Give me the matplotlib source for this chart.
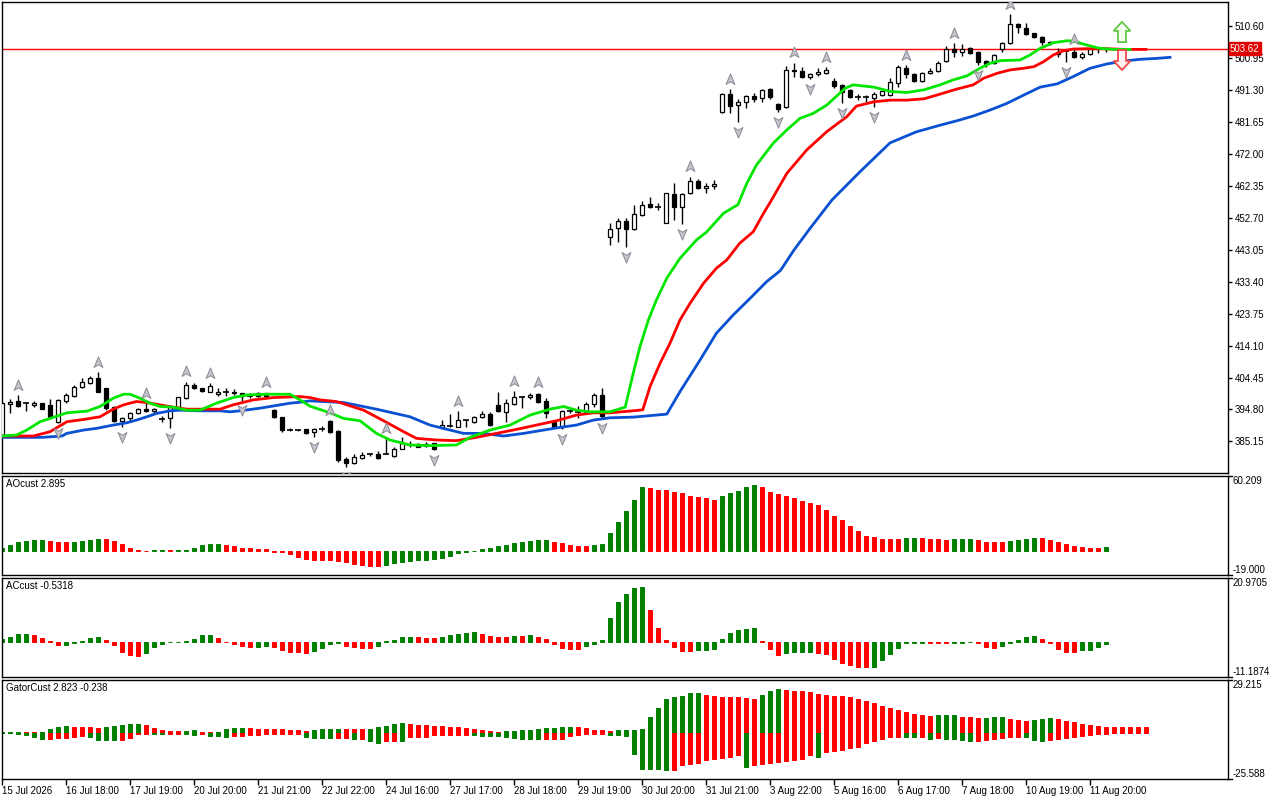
import numpy as np
import matplotlib
matplotlib.use('Agg')
import matplotlib.pyplot as plt
from matplotlib.path import Path
from matplotlib.patches import Polygon

plt.rcParams['font.family'] = ['Liberation Sans', 'DejaVu Sans']

# ---- candles (one per bar) ----
opens = [387.1, 396.4, 397.4, 396.7, 396.2, 396.7, 396.1, 391.1, 397.5, 399.0,
         401.5, 402.9, 404.2, 401.2, 395.5, 391.4, 392.3, 393.6, 394.9, 394.2,
         391.9, 392.1, 395.5, 398.2, 402.2, 401.3, 400.2, 399.6, 400.2, 400.2,
         399.7, 398.9, 399.7, 399.7, 394.6, 392.4, 388.6, 388.6, 388.8, 387.9,
         388.8, 391.3, 388.3, 379.9, 378.6, 380.3, 381.3, 381.4, 381.4, 380.8,
         382.8, 384.1, 384.3, 383.8, 384.6, 389.3, 389.9, 389.6, 391.6, 391.0,
         392.4, 393.4, 396.2, 394.1, 396.5, 398.7, 398.6, 399.4, 397.4, 391.1,
         389.6, 394.4, 394.1, 394.1, 396.4, 399.2, 446.7, 449.4, 451.5, 449.2,
         453.5, 456.8, 456.0, 451.1, 459.8, 455.8, 460.0, 463.8, 461.6, 462.1,
         484.4, 489.9, 486.6, 487.4, 489.3, 488.6, 491.4, 486.9, 485.9, 497.1,
         496.9, 495.2, 495.9, 496.2, 493.9, 492.7, 491.1, 489.1, 488.9, 488.6,
         489.6, 489.6, 493.2, 497.7, 496.0, 493.9, 496.2, 496.9, 500.0, 503.4,
         502.7, 503.7, 502.5, 499.9, 499.2, 503.5, 505.2, 511.1, 509.7, 508.2,
         507.2, 505.7, 502.7, 502.9, 502.7, 501.0, 501.9, 503.4, 503.5]
highs = [396.9, 397.9, 399.2, 397.2, 397.4, 396.9, 397.9, 397.9, 399.9, 402.2,
         404.2, 404.9, 406.0, 401.4, 395.9, 392.6, 394.0, 395.4, 396.7, 395.4,
         392.8, 396.2, 398.7, 403.2, 402.7, 401.3, 402.7, 401.2, 401.2, 400.9,
         399.9, 399.7, 400.0, 399.9, 395.1, 392.6, 389.2, 389.0, 389.0, 389.1,
         389.8, 391.6, 388.6, 380.4, 381.4, 382.1, 381.8, 382.3, 386.1, 383.6,
         386.4, 385.4, 384.6, 385.0, 384.8, 391.6, 393.4, 394.3, 391.6, 392.9,
         394.3, 394.1, 400.2, 397.9, 400.3, 398.9, 399.7, 399.9, 398.2, 391.3,
         394.6, 395.0, 395.8, 397.2, 399.7, 401.2, 451.1, 452.5, 452.5, 456.5,
         457.8, 458.8, 457.0, 460.2, 463.0, 460.0, 465.0, 464.2, 463.2, 464.0,
         490.1, 491.4, 488.3, 489.6, 490.1, 491.4, 491.9, 487.1, 498.4, 499.4,
         498.2, 496.4, 497.7, 498.0, 494.9, 492.9, 491.4, 489.8, 489.5, 490.4,
         491.0, 494.7, 498.7, 498.7, 496.4, 496.7, 497.7, 499.9, 504.4, 505.2,
         504.9, 504.2, 502.9, 500.2, 502.0, 505.7, 514.1, 511.5, 511.3, 508.4,
         507.4, 506.0, 503.7, 503.2, 503.4, 502.7, 503.9, 503.9, 504.0]
lows = [387.0, 393.6, 395.6, 394.2, 395.7, 394.8, 392.1, 390.8, 396.7, 398.7,
        401.4, 402.4, 400.0, 394.6, 391.1, 389.4, 391.3, 393.4, 393.9, 393.8,
        390.9, 389.1, 395.1, 397.9, 400.9, 400.2, 400.0, 398.9, 398.9, 399.2,
        397.5, 398.2, 398.6, 398.6, 392.1, 388.1, 388.2, 388.2, 387.4, 386.6,
        388.3, 387.6, 379.1, 377.4, 378.4, 379.8, 380.8, 380.0, 381.3, 380.6,
        382.8, 383.4, 383.4, 383.4, 382.6, 389.1, 389.4, 389.4, 389.4, 390.8,
        392.1, 389.8, 394.1, 391.1, 396.2, 395.4, 397.9, 396.9, 392.1, 389.4,
        388.8, 393.6, 392.1, 393.8, 395.7, 392.3, 444.4, 445.4, 443.7, 448.9,
        453.3, 455.5, 455.0, 450.9, 451.9, 450.6, 459.8, 461.2, 460.2, 461.2,
        484.1, 484.1, 481.6, 485.8, 487.6, 487.6, 488.3, 484.6, 485.6, 495.2,
        494.7, 494.4, 495.5, 496.0, 491.7, 487.3, 488.8, 488.1, 487.6, 486.1,
        489.4, 489.4, 492.0, 494.7, 493.7, 493.7, 496.0, 496.7, 499.7, 501.2,
        501.5, 502.0, 498.7, 498.2, 498.9, 502.7, 505.0, 508.2, 507.7, 506.9,
        504.7, 504.7, 501.2, 499.7, 500.7, 500.4, 501.7, 502.4, 502.7]
closes = [396.7, 397.1, 395.9, 396.75, 396.9, 395.1, 392.4, 397.7, 399.2, 401.7,
          403.1, 404.2, 400.2, 395.2, 391.4, 392.3, 393.6, 394.9, 394.2, 395.1,
          391.9, 395.5, 398.5, 402.2, 401.4, 400.3, 401.9, 400.2, 400.2, 399.9,
          398.9, 398.9, 398.9, 398.9, 392.4, 388.6, 388.6, 388.6, 387.6, 388.8,
          388.8, 388.1, 379.6, 378.6, 380.4, 381.0, 381.3, 380.1, 381.4, 382.8,
          384.6, 384.1, 383.6, 384.5, 382.8, 390.0, 389.9, 391.5, 391.6, 392.4,
          393.4, 390.0, 394.3, 396.7, 398.7, 398.7, 399.2, 397.2, 393.6, 389.6,
          394.3, 394.4, 394.1, 396.5, 399.2, 392.8, 449.1, 451.5, 449.2, 453.7,
          456.5, 456.0, 456.0, 460.0, 455.8, 459.8, 463.7, 461.5, 462.2, 462.8,
          489.8, 486.4, 487.4, 489.3, 488.3, 491.1, 488.9, 485.3, 497.2, 496.9,
          495.2, 496.0, 496.7, 497.2, 492.5, 490.6, 489.1, 489.1, 488.9, 489.9,
          490.7, 493.5, 498.0, 496.0, 493.9, 496.2, 496.9, 499.4, 503.4, 502.5,
          503.5, 502.4, 499.5, 499.0, 501.7, 505.2, 511.1, 510.0, 508.0, 507.2,
          505.7, 505.2, 502.0, 502.9, 501.0, 502.0, 503.5, 503.4, 503.62]

# ---- Alligator lines (bar position, price) ----
jaw_x = [0, 5.0, 7.5, 8.1, 10.2, 11.8, 13.9, 15.6, 16.8, 18.1, 19.3, 21.0, 22.25, 24.75,
         27.25, 28.5, 29.75, 32.25, 33.5, 36.0, 37.25, 38.5, 42.7, 46.8, 51.0, 53.5,
         56.0, 57.7, 60.2, 62.7, 65.2, 67.7, 69.75, 71.8, 73.9, 76.0, 78.9, 83.1,
         84.75, 87.25, 89.3, 91.4, 93.5, 95.6, 97.3, 99.0, 101.0, 103.75, 105.6,
         107.25, 111.0, 114.25, 117.5, 119.4, 121.4, 123.5, 125.6, 127.7, 129.75,
         131.9, 133.9, 136.0, 138.1, 140.25, 142.25, 144.4, 146.0]
jaw_y = [386.4, 386.4, 386.8, 387.6, 388.6, 389.1, 390.1, 390.8, 391.6, 392.6, 393.6,
         394.4, 394.6, 394.4, 394.4, 394.1, 394.4, 395.2, 395.7, 396.7, 397.0, 397.4,
         396.9, 394.9, 392.6, 390.1, 388.6, 387.6, 387.6, 386.8, 387.6, 388.6, 389.4,
         390.1, 391.6, 392.3, 392.5, 393.4, 400.2, 409.7, 417.8, 423.3, 428.3, 433.4,
         436.7, 442.9, 449.4, 458.0, 462.5, 466.5, 475.2, 478.5, 480.7, 481.9, 483.3,
         485.1, 487.1, 489.6, 492.0, 493.0, 495.2, 497.7, 499.0, 499.9, 500.4, 500.7,
         501.0]
teeth_x = [0, 3.9, 6.0, 8.1, 10.2, 12.25, 13.9, 15.2, 16.8, 18.1, 19.75, 21.4, 23.1,
           24.75, 27.25, 28.9, 31.4, 33.9, 37.25, 38.5, 39.75, 41.8, 45.2, 47.7, 50.2,
           51.8, 54.3, 56.8, 59.3, 61.8, 64.3, 66.8, 69.3, 71.8, 73.9, 76.0, 79.3, 80.1,
           81.0, 82.25, 83.5, 84.75, 86.0, 87.7, 89.3, 90.6, 92.2, 93.9, 95.2, 96.2,
           98.1, 100.6, 103.1, 105.6, 106.8, 109.0, 111.1, 113.1, 115.25, 117.25, 119.3,
           121.4, 122.7, 124.4, 126.0, 127.7, 129.0, 130.2, 131.4, 132.7, 133.9, 135.6,
           138.1, 140.2, 143.0]
teeth_y = [386.8, 386.8, 388.1, 391.1, 391.8, 392.6, 394.9, 396.2, 397.2, 396.9, 396.2,
           395.5, 394.9, 394.9, 394.9, 396.2, 397.7, 398.4, 398.7, 398.4, 397.7, 397.2,
           394.6, 391.4, 388.1, 386.1, 385.6, 385.4, 386.4, 387.6, 388.8, 390.1, 391.4,
           393.1, 393.8, 393.8, 394.5, 394.7, 401.7, 408.7, 414.8, 421.8, 426.8, 432.9,
           437.4, 439.9, 444.9, 448.4, 454.0, 458.0, 466.0, 473.1, 478.6, 483.1, 486.3,
           487.6, 488.1, 488.1, 488.5, 489.9, 491.4, 492.7, 494.7, 496.2, 497.2, 497.7,
           498.2, 499.7, 501.7, 503.0, 503.5, 503.6, 503.6, 503.4, 503.4]
lips_x = [0, 1.8, 3.1, 4.75, 6.0, 8.1, 10.6, 12.25, 13.9, 15.2, 16.0, 17.25, 18.5,
          19.75, 21.4, 23.1, 24.75, 26.8, 28.9, 30.6, 33.1, 36.0, 37.25, 38.5, 41.0,
          42.7, 44.75, 46.8, 48.5, 51.0, 53.5, 56.8, 58.5, 61.0, 63.5, 66.0, 68.5, 70.2,
          71.8, 73.5, 76.0, 77.9, 78.9, 79.75, 80.8, 81.8, 83.1, 84.75, 86.8, 88.1, 90.2,
          92.0, 93.1, 94.3, 96.4, 98.1, 99.75, 101.4, 103.1, 105.4, 106.4, 109.0, 111.1,
          113.1, 115.25, 117.25, 118.9, 120.6, 122.25, 123.5, 124.75, 127.25, 128.5,
          129.75, 131.4, 133.1, 133.9, 135.6, 137.25, 138.9, 141.0]
lips_y = [386.8, 387.1, 388.6, 391.1, 392.1, 393.8, 394.3, 395.7, 398.2, 399.4, 399.4,
          398.2, 396.7, 395.7, 395.5, 394.6, 394.6, 396.7, 398.4, 399.2, 399.4, 399.4,
          397.7, 395.8, 393.8, 392.1, 391.4, 387.6, 385.6, 384.1, 383.9, 384.1, 386.4,
          388.6, 390.1, 393.1, 394.9, 395.7, 394.6, 394.1, 394.1, 395.5, 405.7, 413.8,
          421.8, 427.8, 434.4, 440.4, 445.9, 448.4, 454.0, 456.6, 463.0, 468.5, 475.1,
          479.1, 482.6, 484.1, 486.6, 491.7, 492.7, 492.0, 490.7, 490.4, 491.2, 492.7,
          494.2, 495.4, 497.7, 499.2, 500.0, 500.2, 501.7, 503.7, 505.4, 506.0, 505.9,
          504.7, 503.7, 503.4, 503.4]

fractal_up = [2, 12, 18, 23, 26, 33, 41, 48, 57, 64, 67, 86, 91, 99, 103, 113, 119, 126, 134]
fractal_down = [7, 15, 21, 30, 39, 43, 54, 70, 75, 78, 85, 92, 97, 101, 105, 109, 122, 133]

last_price = 503.62
signal_bar = 140
signal_up = (505.6, 511.7)     # base, tip
signal_down = (503.2, 497.2)

# ---- oscillators ----
ao = [2.6, 4.5, 6.9, 8.4, 8.6, 8.7, 7.9, 7.1, 7.0, 7.1,
      7.9, 9.2, 10.0, 9.9, 8.4, 5.3, 2.6, 1.0, 0.5, 0.55,
      0.6, 0.55, 0.6, 1.0, 2.6, 4.5, 5.3, 5.4, 4.5, 3.7,
      2.6, 2.1, 2.0, 1.3, -0.3, -0.5, -2.6, -4.8, -6.6, -6.9,
      -7.0, -7.1, -7.9, -8.7, -10.0, -10.8, -11.9, -12.1, -10.8, -9.8,
      -9.0, -7.9, -7.4, -7.1, -6.1, -5.3, -4.0, -1.3, -0.5, 0.5,
      1.6, 2.6, 3.7, 4.5, 6.6, 7.4, 8.4, 8.6, 8.7, 7.1,
      6.3, 4.5, 4.0, 3.7, 4.5, 5.3, 14.3, 23.5, 31.7, 40.9,
      50.7, 49.9, 48.8, 48.6, 47.3, 46.2, 44.1, 43.3, 42.2, 40.7,
      44.1, 46.5, 48.0, 50.7, 52.8, 50.7, 46.7, 45.4, 44.1, 42.2,
      39.6, 38.3, 36.7, 33.0, 28.2, 25.1, 20.3, 16.4, 12.4, 11.1,
      9.8, 9.6, 9.5, 10.6, 10.7, 10.4, 9.8, 9.6, 9.2, 9.8,
      9.9, 10.0, 9.0, 7.1, 7.0, 6.9, 7.9, 8.7, 9.8, 10.6,
      10.3, 9.0, 7.1, 5.8, 4.0, 3.4, 2.6, 2.4, 2.9]
ac = [1.2, 1.9, 2.6, 2.8, 2.5, 1.5, 0.3, -0.9, -0.85, -0.05,
      0.4, 1.3, 1.9, 0.9, -0.9, -3.1, -4.2, -4.4, -3.4, -1.5,
      -0.4, 0.02, 0.2, 0.3, 1.2, 2.3, 2.35, 1.5, 0.2, -0.4,
      -1.3, -1.5, -1.45, -1.3, -1.5, -2.3, -3.1, -3.15, -3.4, -2.9,
      -1.8, -0.4, -0.3, -1.3, -1.5, -1.8, -1.9, -1.2, 0.3, 0.9,
      1.7, 1.9, 1.7, 1.4, 1.3, 1.7, 2.3, 2.8, 3.1, 3.5,
      2.6, 2.0, 1.9, 1.7, 2.0, 1.95, 2.4, 1.7, 1.0, -0.4,
      -1.7, -2.1, -2.25, -1.3, -0.4, 0.9, 7.8, 13.0, 15.7, 17.5,
      18.0, 10.5, 4.7, 0.9, -1.5, -2.8, -2.9, -2.6, -2.5, -2.1,
      1.2, 3.1, 3.9, 4.4, 4.5, 0.4, -2.0, -4.2, -3.4, -3.2,
      -3.1, -3.0, -3.4, -3.6, -5.3, -6.6, -7.4, -7.9, -8.1, -7.9,
      -5.8, -3.8, -1.9, -0.2, -0.15, -0.1, -0.15, -0.2, -0.3, -0.2,
      -0.1, 0.05, -0.3, -1.5, -1.8, -1.3, -0.2, 0.9, 1.9, 1.95,
      1.2, -0.3, -2.0, -3.1, -3.2, -2.6, -2.3, -1.4, -0.53]
gator_up = [0.35, 0.45, 0.55, 0.45, 0.2, 0.3, 2.0, 3.3, 3.4, 3.3,
            3.1, 2.9, 2.55, 3.3, 3.8, 4.4, 4.75, 4.85, 4.4, 2.4,
            1.5, 0.75, 0.65, 1.1, 1.2, 0.55, 0.35, 0.45, 2.0, 2.55,
            2.65, 2.4, 2.0, 1.9, 1.8, 1.7, 1.6, 1.5, 1.1, 1.5,
            1.8, 2.0, 2.2, 2.1, 2.0, 1.9, 2.2, 2.9, 3.8, 4.9,
            5.1, 4.75, 4.4, 4.2, 3.8, 3.65, 3.3, 2.9, 2.6, 2.0,
            1.5, 0.7, 0.55, 0.75, 0.9, 1.3, 1.6, 1.8, 2.4, 2.7,
            2.9, 3.3, 3.1, 2.75, 1.6, 1.3, 1.1, 1.25, 1.5, 1.65,
            1.7, 8.4, 13.5, 18.5, 19.7, 20.3, 21.6, 21.7, 20.8, 20.3,
            19.7, 19.5, 19.4, 19.2, 18.5, 20.8, 23.0, 23.9, 23.6, 23.0,
            22.8, 22.1, 21.2, 20.5, 20.3, 20.1, 19.4, 18.5, 17.5, 16.3,
            14.8, 13.5, 12.4, 11.1, 10.2, 9.5, 9.3, 9.4, 9.5, 9.6,
            8.8, 8.4, 8.0, 8.2, 8.6, 8.8, 7.7, 6.9, 6.6, 6.9,
            7.5, 8.0, 7.3, 6.2, 5.7, 4.75, 4.2, 3.5, 3.3, 3.1,
            2.95, 2.9, 2.85, 2.823]
gator_down = [-0.35, -0.45, -0.55, -1.6, -2.55, -3.5, -3.45, -3.1, -3.0, -2.55,
              -2.0, -2.55, -4.0, -4.1, -4.2, -4.0, -3.1, -0.75, -0.6, -0.75,
              -0.8, -0.7, -0.65, -0.75, -1.1, -0.9, -2.0, -2.1, -2.2, -2.05,
              -1.65, -1.3, -1.1, -1.0, -0.85, -0.75, -0.65, -0.55, -2.2, -2.9,
              -3.1, -3.15, -3.1, -3.0, -3.5, -3.45, -4.75, -5.8, -4.8, -4.4,
              -4.45, -2.6, -2.55, -2.4, -1.6, -1.55, -1.5, -1.3, -1.25, -1.3,
              -1.8, -2.0, -2.1, -2.4, -3.1, -3.5, -3.55, -3.6, -3.5, -3.45,
              -3.3, -1.8, -1.1, -0.7, -0.65, -0.6, -1.5, -1.6, -1.65, -11.7,
              -19.9, -19.95, -20.3, -20.8, -20.5, -18.1, -17.2, -16.6, -15.3, -14.4,
              -13.9, -13.5, -12.6, -19.0, -18.1, -17.2, -16.8, -16.4, -15.9, -15.3,
              -14.6, -12.6, -13.2, -10.8, -10.2, -9.5, -8.4, -8.0, -5.8, -4.75,
              -3.65, -2.55, -2.2, -2.4, -2.6, -2.35, -3.5, -3.1, -3.45, -3.6,
              -4.0, -4.75, -4.4, -4.0, -3.5, -3.1, -2.55, -2.2, -2.3, -4.0,
              -4.4, -4.0, -3.8, -3.1, -2.55, -2.0, -1.3, -0.75, -0.7, -0.5,
              -0.35, -0.238]

time_labels = ['15 Jul 2026', '16 Jul 18:00', '17 Jul 19:00', '20 Jul 20:00',
               '21 Jul 21:00', '22 Jul 22:00', '24 Jul 16:00', '27 Jul 17:00',
               '28 Jul 18:00', '29 Jul 19:00', '30 Jul 20:00', '31 Jul 21:00',
               '3 Aug 22:00', '5 Aug 16:00', '6 Aug 17:00', '7 Aug 18:00',
               '10 Aug 19:00', '11 Aug 20:00']
label_step = 8

price_ticks = [510.60, 500.95, 491.30, 481.65, 472.00, 462.35, 452.70, 443.05,
               433.40, 423.75, 414.10, 404.45, 394.80, 385.15]

GREEN = '#008000'
RED = '#FF0000'
FS = 7


def trend_colors(vals, use_abs=False):
    # green when the bar grew against the previous one, red when it shrank
    v = np.abs(vals) if use_abs else np.asarray(vals)
    cols = []
    prev = GREEN
    for k in range(len(v)):
        if k > 0:
            if v[k] > v[k - 1]:
                prev = GREEN
            elif v[k] < v[k - 1]:
                prev = RED
        cols.append(prev)
    return cols


W, H = 1280, 800
fig = plt.figure(figsize=(12.8, 8), dpi=100)
fig.patch.set_facecolor('white')


def px_axes(x0, y0, x1, y1):
    return fig.add_axes([x0 / W, 1 - y1 / H, (x1 - x0) / W, (y1 - y0) / H])


ax = px_axes(2, 2, 1228, 473)
ax_ao = px_axes(2, 475.5, 1228, 575)
ax_ac = px_axes(2, 577.5, 1228, 677)
ax_gt = px_axes(2, 679.5, 1228, 779)

XMAX = 153.25
for a in (ax, ax_ao, ax_ac, ax_gt):
    a.set_xlim(0, XMAX)
    for s in a.spines.values():
        s.set_linewidth(1)
        s.set_color('black')
    a.tick_params(axis='x', length=0, labelbottom=False)
    a.yaxis.tick_right()
    a.tick_params(axis='y', length=3, width=1, labelsize=FS, pad=2)

# ---- main price panel ----
O = np.array(opens)
Hh = np.array(highs)
L = np.array(lows)
C = np.array(closes)
idx = np.arange(len(O))

ax.set_ylim(375.65, 517.69)
ax.set_yticks(price_ticks)
ax.set_yticklabels(['%.2f' % t for t in price_ticks])

ax.axhline(last_price, color='red', lw=1, zorder=1)

ax.vlines(idx, L, Hh, color='black', lw=1, zorder=2)
bull = C - O > 0.15
bear = O - C > 0.15
doji = ~(bull | bear)
ax.bar(idx[bull], (C - O)[bull], bottom=O[bull], width=0.55, color='white',
       edgecolor='black', lw=0.9, zorder=3)
ax.bar(idx[bear], (O - C)[bear], bottom=C[bear], width=0.55, color='black',
       edgecolor='black', lw=0.9, zorder=3)
ax.hlines(C[doji], idx[doji] - 0.35, idx[doji] + 0.35, color='black', lw=1.2, zorder=3)

ax.plot(jaw_x, jaw_y, color='#0A50D2', lw=2, zorder=4, solid_joinstyle='round')
ax.plot(teeth_x, teeth_y, color='#FF0000', lw=2, zorder=4, solid_joinstyle='round')
ax.plot(lips_x, lips_y, color='#00E600', lw=2, zorder=4, solid_joinstyle='round')

# fractal arrowheads
up_verts = [(0, 1), (0.8, -0.9), (0, -0.4), (-0.8, -0.9), (0, 1)]
codes = [Path.MOVETO, Path.LINETO, Path.LINETO, Path.LINETO, Path.CLOSEPOLY]
up_mark = Path(up_verts, codes)
down_mark = Path([(x, -y) for x, y in up_verts], codes)
fu = np.array(fractal_up)
fd = np.array(fractal_down)
ax.plot(fu, Hh[fu] + 3.1, ls='none', marker=up_mark, ms=8, mfc='#C4C4CC',
        mec='#8A8A94', mew=0.7, zorder=5)
ax.plot(fd, L[fd] - 3.0, ls='none', marker=down_mark, ms=8, mfc='#C4C4CC',
        mec='#8A8A94', mew=0.7, zorder=5)


def arrow_poly(cx, base, tip):
    hw, sw = 1.05, 0.5
    hl = (tip - base) * 0.45
    pts = [(cx - sw, base), (cx - sw, tip - hl), (cx - hw, tip - hl), (cx, tip),
           (cx + hw, tip - hl), (cx + sw, tip - hl), (cx + sw, base)]
    return pts


ax.add_patch(Polygon(arrow_poly(signal_bar, *signal_up), closed=True,
                     fc='#F4FFF0', ec='#62C846', lw=1.3, zorder=6))
ax.add_patch(Polygon(arrow_poly(signal_bar, *signal_down), closed=True,
                     fc='#FFF2F2', ec='#F04848', lw=1.3, zorder=6))

ax.text(1.0015, last_price, '%.2f' % last_price, transform=ax.get_yaxis_transform(),
        ha='left', va='center', color='white', fontsize=FS, zorder=10,
        bbox=dict(boxstyle='square,pad=0.12', fc='#E00000', ec='#E00000'))


# ---- sub windows ----
def sub_panel(a, lo, hi, lo_txt, hi_txt, title):
    a.set_ylim(lo, hi)
    a.set_yticks([])
    tr = a.get_yaxis_transform()
    a.text(1.004, hi, hi_txt, transform=tr, ha='left', va='top', fontsize=FS)
    a.text(1.004, lo, lo_txt, transform=tr, ha='left', va='bottom', fontsize=FS)
    a.plot([1.0, 1.003], [hi, hi], transform=tr, color='black', lw=1, clip_on=False)
    a.plot([1.0, 1.003], [lo, lo], transform=tr, color='black', lw=1, clip_on=False)
    a.text(0.003, 0.965, title, transform=a.transAxes, ha='left', va='top', fontsize=FS)


def hist(a, vals, cols):
    # edge in the same colour keeps near-zero bars visible as short dashes
    a.bar(np.arange(len(vals)), vals, width=0.42, color=cols, edgecolor=cols, lw=0.7)


sub_panel(ax_ao, -19.0, 60.209, '-19.000', '60.209', 'AOcust 2.895')
hist(ax_ao, ao, trend_colors(ao))

sub_panel(ax_ac, -11.1874, 20.9705, '-11.1874', '20.9705', 'ACcust -0.5318')
hist(ax_ac, ac, trend_colors(ac))

sub_panel(ax_gt, -25.588, 29.215, '-25.588', '29.215', 'GatorCust 2.823 -0.238')
hist(ax_gt, gator_up, trend_colors(gator_up))
hist(ax_gt, gator_down, trend_colors(gator_down, use_abs=True))

# time axis under the last window
ax_gt.set_xticks(np.arange(len(time_labels)) * label_step)
ax_gt.set_xticklabels(time_labels)
ax_gt.tick_params(axis='x', length=4, width=1, labelbottom=True, labelsize=FS, pad=1)
for lab in ax_gt.get_xticklabels():
    lab.set_horizontalalignment('left')

fig.savefig('out.png', dpi=100, facecolor='white')
